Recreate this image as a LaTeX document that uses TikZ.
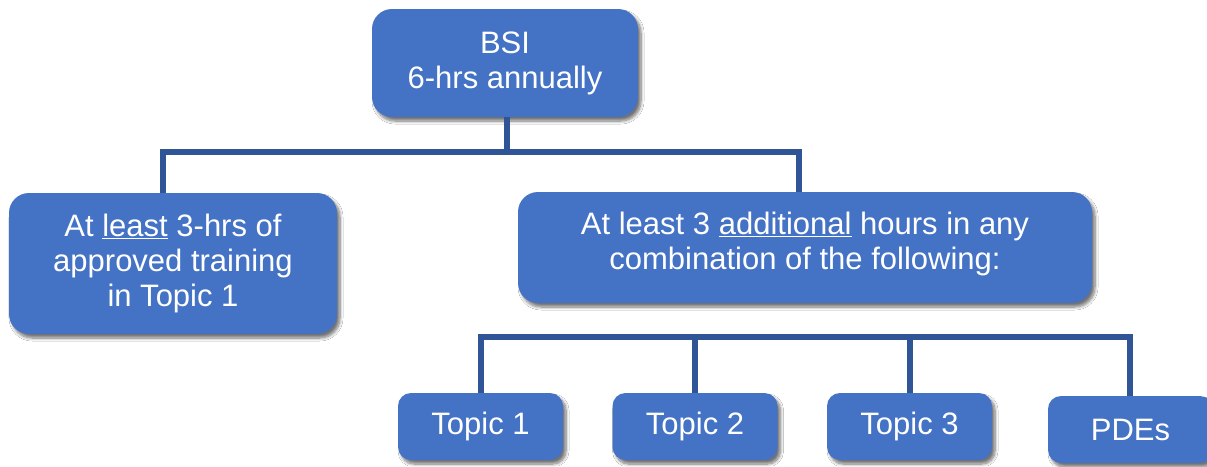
\documentclass[tikz,border=0pt]{standalone}
\usepackage{fontspec}
\setmainfont{Liberation Sans}
\usetikzlibrary{shadows,shadows.blur,calc}
\definecolor{boxblue}{HTML}{4472C4}
\definecolor{linkblue}{HTML}{2F5597}
\tikzset{
  box/.style={fill=boxblue, text=white, rounded corners=20pt, align=center,
    inner sep=0pt, font=\fontsize{31}{35}\selectfont,
    blur shadow={shadow xshift=3pt, shadow yshift=-4pt, shadow blur radius=3pt,
      shadow blur steps=8, shadow opacity=55}},
  smallbox/.style={box, rounded corners=13pt, minimum width=165pt, minimum height=67pt},
  link/.style={draw=linkblue, line width=6pt}
}
\begin{document}
\begin{tikzpicture}[x=1pt,y=-1pt]
\useasboundingbox (0,0) rectangle (1207,466);
\fill[white] (0,0) rectangle (1207,466);
% boxes
\node[box, minimum width=266pt, minimum height=108pt] (bsi) at (505,63) {BSI\\6-hrs annually};
\node[box, minimum width=328pt, minimum height=141pt] (left) at (173,263.5) {At \underline{least} 3-hrs of\\approved training\\in Topic 1};
\node[box, minimum width=574pt, minimum height=111pt] (right) at (805,247.5) {At least 3 \underline{additional} hours in any\\combination of the following:\rule[-14pt]{0pt}{1pt}};
\node[smallbox] (t1) at (480.5,426.5) {Topic 1};
\node[smallbox] (t2) at (695,426.5) {Topic 2};
\node[smallbox] (t3) at (909.5,426.5) {Topic 3};
\node[smallbox] (pde) at (1130.5,429.5) {PDEs};
% junctions
\coordinate (j1) at (507,152);
\coordinate (j2) at (695,337);
% upper connectors
\draw[link] ([xshift=2pt]bsi.south) -- ([xshift=2pt]bsi.south |- j1);
\draw[link] ([xshift=-10pt]left.north) -- ([xshift=-10pt]left.north |- j1) -| ([xshift=-6pt]right.north);
% lower connectors
\draw[link] (t1.north) -- (t1.north |- j2) -| ([xshift=-1pt]pde.north);
\draw[link] (t2.north) -- (t2.north |- j2);
\draw[link] (t3.north) -- (t3.north |- j2);
\end{tikzpicture}
\end{document}
